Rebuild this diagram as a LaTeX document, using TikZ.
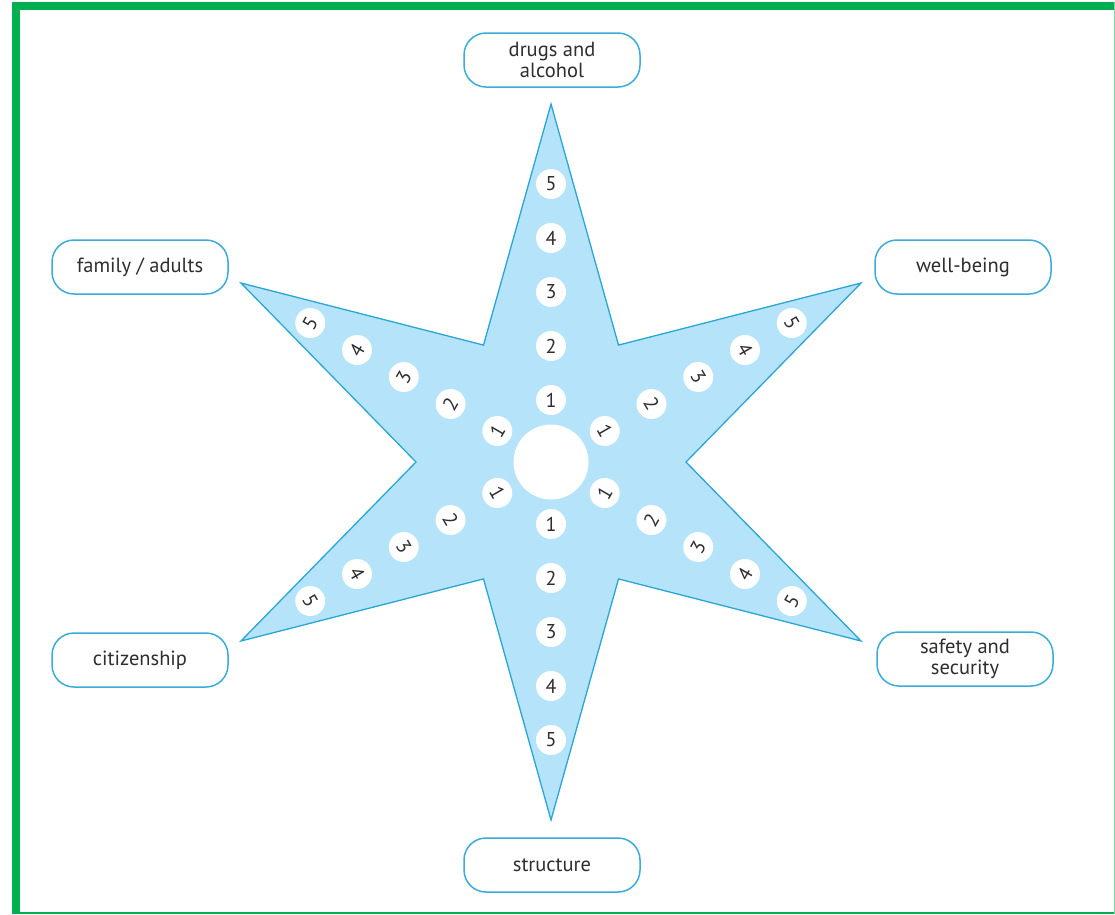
\documentclass[tikz,border=0pt]{standalone}
\usepackage{fontspec}
\setmainfont{PT Sans}
\definecolor{framegreen}{HTML}{00B050}
\definecolor{framelight}{HTML}{7FD7A7}
\definecolor{starfill}{HTML}{B5E3F9}
\definecolor{starline}{HTML}{2AA6D6}
\definecolor{tagline}{HTML}{3AACD9}
\definecolor{inktext}{HTML}{2E2E2E}
\begin{document}
\begin{tikzpicture}[x=1pt,y=1pt,
  tag/.style={draw=tagline, line width=1.5pt, fill=white, rounded corners=22pt,
    minimum width=176pt, minimum height=54pt, align=center, inner sep=0pt,
    text=inktext, font=\fontsize{20.5}{21}\selectfont},
  numdot/.style={circle, fill=white, minimum size=30pt, inner sep=0pt,
    text=inktext, font=\fontsize{20}{20}\selectfont},
  hub/.style={circle, fill=white, minimum size=75pt, inner sep=0pt}]
\useasboundingbox (0,0) rectangle (1115,-914);
% frame
\fill[framegreen] (12,-2) rectangle (20,-914);
\fill[framegreen] (12,-2) rectangle (1115,-10);
\fill[framegreen] (12,-911.5) rectangle (1115,-914);
\fill[framelight] (1113.8,-2) rectangle (1115,-914);
% six-pointed star
\begin{scope}[shift={(551,-462)}]
  \draw[fill=starfill, draw=starline, line width=1.3pt, line join=miter]
    (90:358) -- (120:135) -- (150:358) -- (180:135) -- (210:358) -- (240:135)
    -- (270:358) -- (300:135) -- (330:358) -- (0:135) -- (30:358) -- (60:135) -- cycle;
  \node[hub] (hub) at (0,0) {};
  % numbered steps along each arm: tip angle / digit rotation / name
  \foreach \ang/\rot/\arm in {90/0/drg, 30/-60/wel, 330/60/saf, 270/0/str, 210/-60/cit, 150/60/fam}{
    \foreach \k in {1,...,5}{
      \node[numdot, rotate=\rot] (\arm-\k) at (\ang:{8+54*\k}) {\k};
    }
  }
\end{scope}
% area labels
\node[tag] (drugs) at (552,-60) {drugs and\\alcohol};
\node[tag] (family) at (140,-267) {family / adults};
\node[tag] (wellbeing) at (963,-267) {well-being};
\node[tag] (citizen) at (140,-660) {citizenship};
\node[tag] (safety) at (965,-659) {safety and\\security};
\node[tag] (structure) at (552,-865) {structure};
\end{tikzpicture}
\end{document}
